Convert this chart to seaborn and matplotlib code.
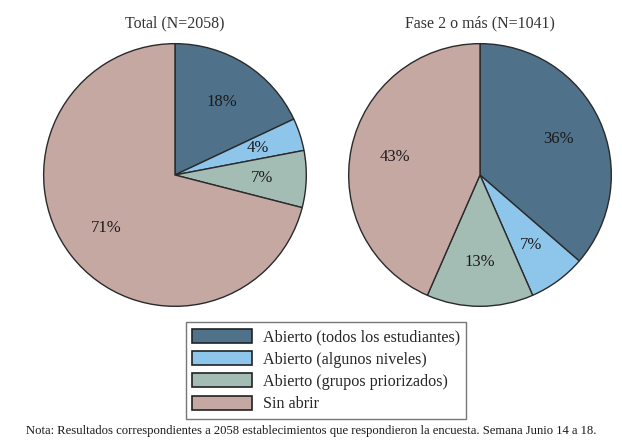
import matplotlib.pyplot as plt
import seaborn as sns
from matplotlib.patches import Patch

categories = ['Abierto (todos los estudiantes)', 'Abierto (algunos niveles)',
              'Abierto (grupos priorizados)', 'Sin abrir']
total_vals = [18, 4, 7, 71]
fase2_vals = [36, 7, 13, 43]
titles = ['Total (N=2058)', 'Fase 2 o más (N=1041)']
colors = ['#4f7189', '#8ec6eb', '#a3bdb5', '#c6a8a3']
note = 'Nota: Resultados correspondientes a 2058 establecimientos que respondieron la encuesta. Semana Junio 14 a 18.'

sns.set_theme(style='white')
plt.rcParams['font.family'] = ['Liberation Serif', 'DejaVu Serif']

fig = plt.figure(figsize=(6.22, 4.41), dpi=100)
fig.patch.set_facecolor('white')

boxes = [[0.0691, 0.3039, 0.4244, 0.5986], [0.5595, 0.3039, 0.4244, 0.5986]]
for box, vals, title in zip(boxes, [total_vals, fase2_vals], titles):
    ax = fig.add_axes(box)
    wedges, texts = ax.pie(vals, colors=colors, startangle=90, counterclock=False,
                           labels=[f'{v}%' for v in vals], labeldistance=0.66,
                           wedgeprops=dict(edgecolor='#2a2a2a', linewidth=1.0),
                           textprops=dict(fontsize=12, color='#1a1a1a'))
    for t in texts:
        t.set_ha('center')
        t.set_va('center')
    ax.set_xlim(-1.005, 1.005)
    ax.set_ylim(-1.005, 1.005)
    ax.set_title(title, fontsize=11.4, color='#333333', pad=11)
    ax.set_aspect('equal')

handles = [Patch(facecolor=c, edgecolor='#222222', linewidth=1.2) for c in colors]
leg = fig.legend(handles, categories, loc='center', bbox_to_anchor=(326 / 622, 1 - 370.5 / 441),
                 fontsize=11.6, frameon=True, fancybox=False, edgecolor='#555555',
                 handlelength=3.7, handleheight=0.95, labelspacing=0.36, handletextpad=0.7,
                 borderpad=0.4, borderaxespad=0)
leg.get_frame().set_linewidth(1.0)

fig.text(0.5, 1 - 431 / 441, note, ha='center', va='center', fontsize=9.1, color='#1a1a1a')

fig.savefig('out.png', dpi=100, facecolor='white')
